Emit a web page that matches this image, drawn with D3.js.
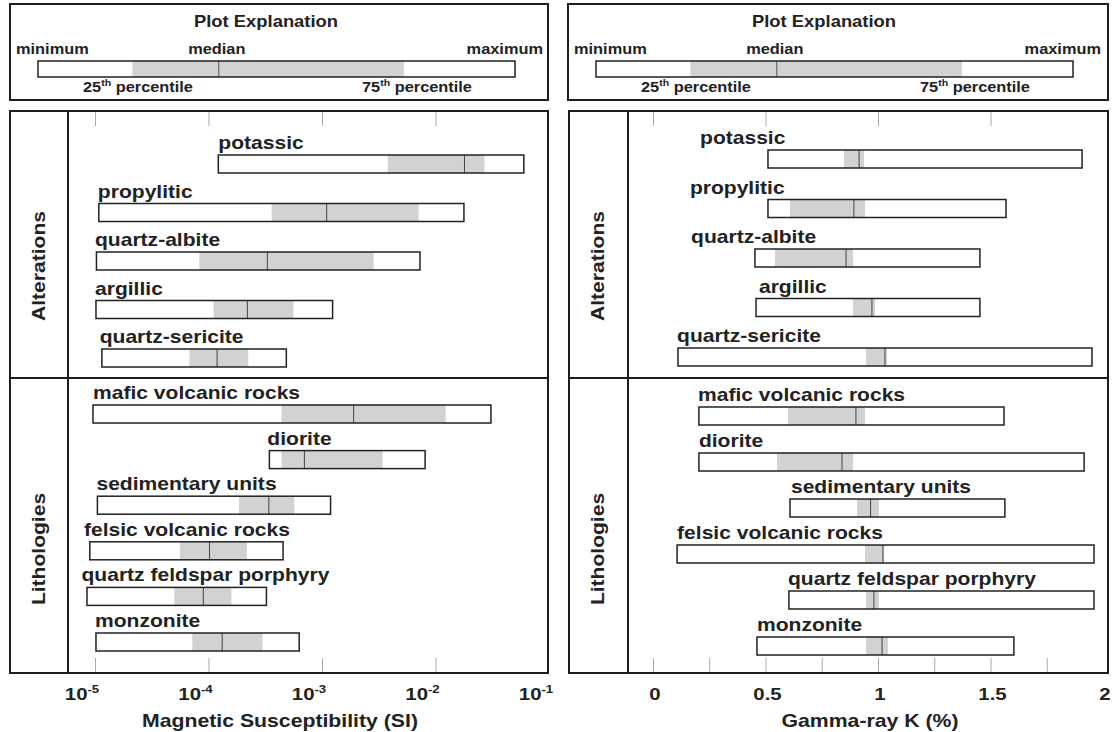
<!DOCTYPE html>
<html>
<head>
<meta charset="utf-8">
<script src="https://cdn.jsdelivr.net/npm/d3@7"></script>
<style>
  body { margin: 0; background: #fff; }
  text { font-family: "Liberation Sans", Arial, sans-serif; font-weight: bold; fill: #222; }
</style>
</head>
<body>
<div id="chart"></div>
<script>
// categories
var altCats = ["potassic", "propylitic", "quartz-albite", "argillic", "quartz-sericite"];
var lithCats = ["mafic volcanic rocks", "diorite", "sedimentary units", "felsic volcanic rocks", "quartz feldspar porphyry", "monzonite"];

// magnetic susceptibility (SI)
var altMagMin = [1.22e-4, 1.08e-5, 1.03e-5, 1.02e-5, 1.15e-5];
var altMagQ1  = [3.8e-3, 3.6e-4, 8.3e-5, 1.11e-4, 6.8e-5];
var altMagMed = [1.8e-2, 1.1e-3, 3.3e-4, 2.2e-4, 1.19e-4];
var altMagQ3  = [2.7e-2, 7.1e-3, 2.85e-3, 5.6e-4, 2.24e-4];
var altMagMax = [6.0e-2, 1.78e-2, 7.3e-3, 1.24e-3, 4.85e-4];
var altMagLabel = [1.22e-4, 1.06e-5, 1.0e-5, 1.0e-5, 1.1e-5];

var lithMagMin = [9.6e-6, 3.44e-4, 1.05e-5, 9.0e-6, 8.5e-6, 1.02e-5];
var lithMagQ1  = [4.4e-4, 4.4e-4, 1.86e-4, 5.6e-5, 5.0e-5, 7.2e-5];
var lithMagMed = [1.9e-3, 7.0e-4, 3.4e-4, 1.02e-4, 9.0e-5, 1.32e-4];
var lithMagQ3  = [1.23e-2, 3.42e-3, 5.7e-4, 2.18e-4, 1.59e-4, 2.99e-4];
var lithMagMax = [3.08e-2, 8.1e-3, 1.19e-3, 4.54e-4, 3.24e-4, 6.3e-4];
var lithMagLabel = [9.6e-6, 3.3e-4, 1.03e-5, 8.0e-6, 7.6e-6, 1.0e-5];

// gamma-ray K (%)
var altKMin = [0.511, 0.511, 0.453, 0.458, 0.111];
var altKQ1  = [0.849, 0.609, 0.542, 0.889, 0.947];
var altKMed = [0.916, 0.893, 0.858, 0.973, 1.031];
var altKQ3  = [0.938, 0.942, 0.889, 0.987, 1.040];
var altKMax = [1.907, 1.569, 1.453, 1.453, 1.951];
var altKLabel = [0.209, 0.164, 0.169, 0.471, 0.107];

var lithKMin = [0.204, 0.204, 0.609, 0.107, 0.604, 0.462];
var lithKQ1  = [0.600, 0.551, 0.907, 0.942, 0.947, 0.947];
var lithKMed = [0.902, 0.840, 0.967, 1.022, 0.982, 1.018];
var lithKQ3  = [0.942, 0.889, 1.004, 1.027, 1.004, 1.044];
var lithKMax = [1.560, 1.916, 1.564, 1.960, 1.960, 1.604];
var lithKLabel = [0.200, 0.204, 0.613, 0.107, 0.600, 0.462];

// ticks
var magTicks = [1e-5, 1e-4, 1e-3, 1e-2, 1e-1];
var magTickExp = ["-5", "-4", "-3", "-2", "-1"];
var kTicks = [0, 0.5, 1, 1.5, 2];
var kTickLabels = ["0", "0.5", "1", "1.5", "2"];
var kMinorTicks = [0.25, 0.75, 1.25, 1.75];

// plot explanation box (fractions of the bar)
var explValues = [0, 0.198, 0.379, 0.767, 1];

function rows(cats, mn, q1, md, q3, mx, lab) {
    return cats.map(function(c, i) {
        return {name: c, min: mn[i], q1: q1[i], med: md[i], q3: q3[i], max: mx[i], label: lab[i]};
    });
}

var svg = d3.select("#chart").append("svg")
    .attr("width", 1112)
    .attr("height", 732);

// text is slightly stretched horizontally in the original figure
function stext(parent, x, y, s, size, anchor, sx) {
    var g = parent.append("g").attr("transform", "translate(" + x + "," + y + ")");
    return g.append("text")
        .attr("transform", "scale(" + (sx || 1.17) + ",1)")
        .attr("text-anchor", anchor || "start")
        .style("font-size", size + "px")
        .text(s);
}

function drawPanel(p) {
    var g = svg.append("g");

    // --- plot explanation
    var e = p.exp;
    g.append("rect").attr("x", e.x0).attr("y", 4).attr("width", e.x1 - e.x0).attr("height", 96)
        .attr("fill", "none").attr("stroke", "#1e1e1e").attr("stroke-width", 2);
    stext(g, e.x0 + 256, 27, "Plot Explanation", 16, "middle", 1.15);
    var ex = d3.scaleLinear().domain([0, 1]).range([e.x0 + 28, e.x0 + 505]);
    g.append("rect").attr("x", ex(explValues[0])).attr("y", 61).attr("width", ex(explValues[4]) - ex(explValues[0]))
        .attr("height", 16).attr("fill", "#fff");
    g.append("rect").attr("x", ex(explValues[1])).attr("y", 61).attr("width", ex(explValues[3]) - ex(explValues[1]))
        .attr("height", 16).attr("fill", "#d2d2d2");
    g.append("line").attr("x1", ex(explValues[2])).attr("x2", ex(explValues[2])).attr("y1", 61).attr("y2", 77)
        .attr("stroke", "#555").attr("stroke-width", 1);
    g.append("rect").attr("x", ex(explValues[0])).attr("y", 61).attr("width", ex(explValues[4]) - ex(explValues[0]))
        .attr("height", 16).attr("fill", "none").attr("stroke", "#222").attr("stroke-width", 1.5);
    stext(g, e.x0 + 6, 54, "minimum", 14, "start");
    stext(g, ex(explValues[2]) - 2, 54, "median", 14, "middle");
    stext(g, e.x0 + 533, 54, "maximum", 14, "end");
    var t25 = stext(g, e.x0 + 73, 92, "25", 14, "start");
    t25.append("tspan").attr("dy", -6).style("font-size", "9px").text("th");
    t25.append("tspan").attr("dy", 6).text(" percentile");
    var t75 = stext(g, e.x0 + 352, 92, "75", 14, "start");
    t75.append("tspan").attr("dy", -6).style("font-size", "9px").text("th");
    t75.append("tspan").attr("dy", 6).text(" percentile");

    // --- main frame
    var b = p.box;
    g.append("rect").attr("x", b.x0).attr("y", b.y0).attr("width", b.x1 - b.x0).attr("height", b.y1 - b.y0)
        .attr("fill", "none").attr("stroke", "#1e1e1e").attr("stroke-width", 2);
    g.append("line").attr("x1", p.divX).attr("x2", p.divX).attr("y1", b.y0).attr("y2", b.y1)
        .attr("stroke", "#1e1e1e").attr("stroke-width", 2);
    g.append("line").attr("x1", b.x0).attr("x2", b.x1).attr("y1", p.midY).attr("y2", p.midY)
        .attr("stroke", "#1e1e1e").attr("stroke-width", 2);

    var x = p.x;

    // ticks inside the frame
    var top = g.append("g").attr("transform", "translate(0," + (b.y0 + 1) + ")")
        .call(d3.axisTop(x).tickValues(p.topTicks).tickSize(-14).tickFormat(""));
    var bot = g.append("g").attr("transform", "translate(0," + (b.y1 - 1) + ")")
        .call(d3.axisBottom(x).tickValues(p.bottomTicks).tickSize(-14).tickFormat(""));
    [top, bot].forEach(function(a) {
        a.select(".domain").remove();
        a.selectAll(".tick line").attr("stroke", "#aaa");
    });

    // tick labels
    p.tickLabels.forEach(function(t) {
        var tx = stext(g, x(t.v) + p.labelDx, 700, t.base, 17, "middle", 1.2);
        if (t.sup) tx.append("tspan").attr("dy", -7).style("font-size", "11px").text(t.sup);
    });
    stext(g, p.titleX, 727, p.title, 18, "middle", 1.18);

    // section labels
    [["Alterations", 266], ["Lithologies", 549]].forEach(function(s) {
        g.append("g").attr("transform", "translate(" + (b.x0 + 35) + "," + s[1] + ") rotate(-90)")
            .append("text").attr("transform", "scale(1.17,1)").attr("text-anchor", "middle")
            .style("font-size", "18px").text(s[0]);
    });

    // bars
    p.sections.forEach(function(sec) {
        var y = d3.scalePoint().domain(sec.data.map(function(d) { return d.name; })).range(sec.range);
        var bh = 18;
        var grp = g.append("g").selectAll("g").data(sec.data).enter().append("g");
        grp.append("rect")
            .attr("x", function(d) { return x(d.min); })
            .attr("y", function(d) { return y(d.name); })
            .attr("width", function(d) { return x(d.max) - x(d.min); })
            .attr("height", bh).attr("fill", "#fff");
        grp.append("rect")
            .attr("x", function(d) { return x(d.q1); })
            .attr("y", function(d) { return y(d.name); })
            .attr("width", function(d) { return x(d.q3) - x(d.q1); })
            .attr("height", bh).attr("fill", "#d2d2d2");
        grp.append("line")
            .attr("x1", function(d) { return x(d.med); })
            .attr("x2", function(d) { return x(d.med); })
            .attr("y1", function(d) { return y(d.name); })
            .attr("y2", function(d) { return y(d.name) + bh; })
            .attr("stroke", "#444").attr("stroke-width", 1);
        grp.append("rect")
            .attr("x", function(d) { return x(d.min); })
            .attr("y", function(d) { return y(d.name); })
            .attr("width", function(d) { return x(d.max) - x(d.min); })
            .attr("height", bh).attr("fill", "none").attr("stroke", "#222").attr("stroke-width", 1.5);
        grp.each(function(d) {
            stext(d3.select(this), x(d.label), y(d.name) - 6, d.name, 18, "start", 1.17);
        });
    });
}

var xMag = d3.scaleLog().domain([1e-5, 1e-1]).range([95, 549]);
var xK = d3.scaleLinear().domain([0, 2]).range([653, 1103]);

drawPanel({
    exp: {x0: 10, x1: 548},
    box: {x0: 10, y0: 111, x1: 548, y1: 673},
    divX: 68, midY: 378,
    x: xMag,
    topTicks: magTicks.slice(0, 4),
    bottomTicks: magTicks.slice(0, 4),
    tickLabels: magTicks.map(function(v, i) { return {v: v, base: "10", sup: magTickExp[i]}; }),
    labelDx: -13,
    title: "Magnetic Susceptibility (SI)", titleX: 280,
    sections: [
        {data: rows(altCats, altMagMin, altMagQ1, altMagMed, altMagQ3, altMagMax, altMagLabel), range: [155, 349]},
        {data: rows(lithCats, lithMagMin, lithMagQ1, lithMagMed, lithMagQ3, lithMagMax, lithMagLabel), range: [405, 633]}
    ]
});

drawPanel({
    exp: {x0: 568, x1: 1108},
    box: {x0: 569, y0: 111, x1: 1108, y1: 673},
    divX: 628, midY: 378,
    x: xK,
    topTicks: kTicks.slice(0, 4),
    bottomTicks: kTicks.slice(0, 4).concat(kMinorTicks),
    tickLabels: kTicks.map(function(v, i) { return {v: v, base: kTickLabels[i]}; }),
    labelDx: 2,
    title: "Gamma-ray K (%)", titleX: 870,
    sections: [
        {data: rows(altCats, altKMin, altKQ1, altKMed, altKQ3, altKMax, altKLabel), range: [150, 348]},
        {data: rows(lithCats, lithKMin, lithKQ1, lithKMed, lithKQ3, lithKMax, lithKLabel), range: [407, 637]}
    ]
});
</script>
</body>
</html>
